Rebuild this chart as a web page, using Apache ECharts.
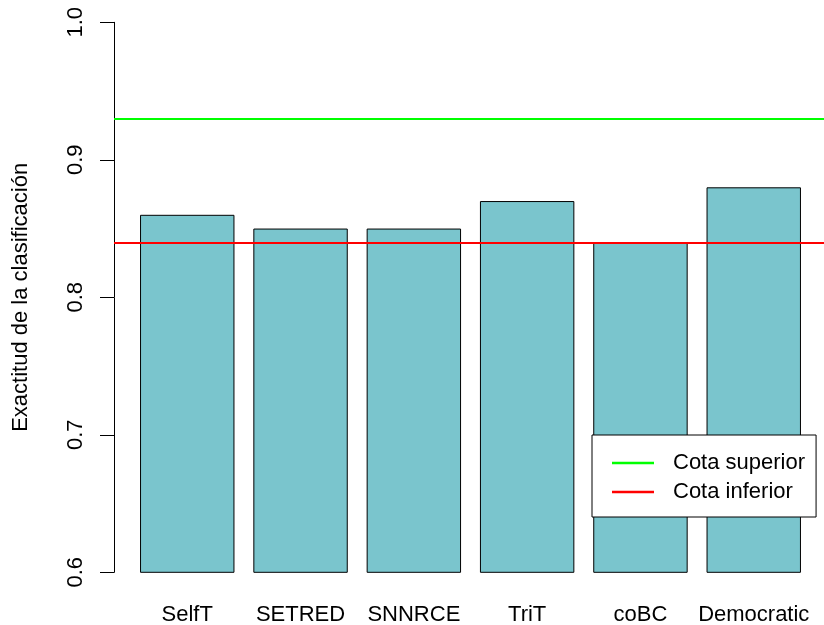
<!DOCTYPE html>
<html>
<head>
<meta charset="utf-8">
<script src="https://cdn.jsdelivr.net/npm/echarts@6/dist/echarts.min.js"></script>
<style>
  html, body { margin: 0; padding: 0; background: #fff; }
  #main { width: 824px; height: 625px; }
</style>
</head>
<body>
<div id="main"></div>
<script>
// datos
var methods = ['SelfT', 'SETRED', 'SNNRCE', 'TriT', 'coBC', 'Democratic'];
var accuracy = [0.86, 0.85, 0.85, 0.87, 0.84, 0.88];
var boundNames = ['Cota superior', 'Cota inferior'];
var boundValues = [0.93, 0.84];
var boundColors = ['#00FF00', '#FF0000'];
var yMin = 0.6, yMax = 1.0, yStep = 0.1;

var font = 'Liberation Sans, Arial, Helvetica, sans-serif';
var chart = echarts.init(document.getElementById('main'), null, { renderer: 'canvas' });

// series de las cotas (abline en R, ocupan toda la región del gráfico)
var boundSeries = boundNames.map(function (name, i) {
  return {
    name: name,
    type: 'line',
    xAxisIndex: 0,
    yAxisIndex: 0,
    data: [],
    symbol: 'none',
    color: boundColors[i],
    lineStyle: { color: boundColors[i], width: 2 },
    z: 5,
    markLine: {
      silent: true,
      symbol: 'none',
      label: { show: false },
      lineStyle: { color: boundColors[i], width: 2, type: 'solid' },
      data: [{ yAxis: boundValues[i] }],
      z: 5
    }
  };
});

var option = {
  backgroundColor: '#fff',
  animation: false,
  textStyle: { fontFamily: font },
  grid: [
    { left: 114, top: 22.3, width: 713.5, bottom: 52.7, containLabel: false, outerBoundsMode: 'none' },
    { left: 130.6, top: 22.3, right: 13.6, bottom: 52.7, containLabel: false, outerBoundsMode: 'none' }
  ],
  xAxis: [
    { gridIndex: 0, type: 'value', min: 0, max: 1, show: false },
    {
      gridIndex: 1,
      type: 'category',
      data: methods,
      axisLine: { show: false },
      axisTick: { show: false },
      axisLabel: { color: '#000', fontSize: 22, fontFamily: font, margin: 32, interval: 0 }
    }
  ],
  yAxis: [
    {
      gridIndex: 0,
      type: 'value',
      min: yMin,
      max: yMax,
      interval: yStep,
      name: 'Exactitud de la clasificación',
      nameLocation: 'middle',
      nameRotate: 90,
      nameGap: 82,
      nameTextStyle: { color: '#000', fontSize: 22, fontFamily: font },
      axisLine: { show: true, lineStyle: { color: '#000', width: 1 } },
      axisTick: { show: true, length: 14, lineStyle: { color: '#000' } },
      splitLine: { show: false },
      axisLabel: {
        color: '#000',
        fontSize: 22,
        fontFamily: font,
        rotate: 90,
        margin: 27,
        formatter: function (v) { return v.toFixed(1); }
      }
    },
    {
      gridIndex: 1,
      type: 'value',
      min: yMin,
      max: yMax,
      interval: yStep,
      show: false
    }
  ],
  legend: {
    data: boundNames,
    orient: 'vertical',
    left: 592,
    top: 435,
    backgroundColor: '#fff',
    borderColor: '#000',
    borderWidth: 1,
    borderRadius: 0,
    padding: [17, 11, 14, 20],
    icon: 'rect',
    itemWidth: 42,
    itemHeight: 2.5,
    itemGap: 7,
    selectedMode: false,
    textStyle: { color: '#000', fontSize: 22, fontFamily: font, lineHeight: 20, padding: [0, 0, 0, 14] },
    z: 10
  },
  series: [
    {
      type: 'bar',
      xAxisIndex: 1,
      yAxisIndex: 1,
      data: accuracy,
      barCategoryGap: '16.667%',
      itemStyle: { color: '#7AC5CD', borderColor: '#000', borderWidth: 1 },
      z: 2
    }
  ].concat(boundSeries)
};

chart.setOption(option);
</script>
</body>
</html>
